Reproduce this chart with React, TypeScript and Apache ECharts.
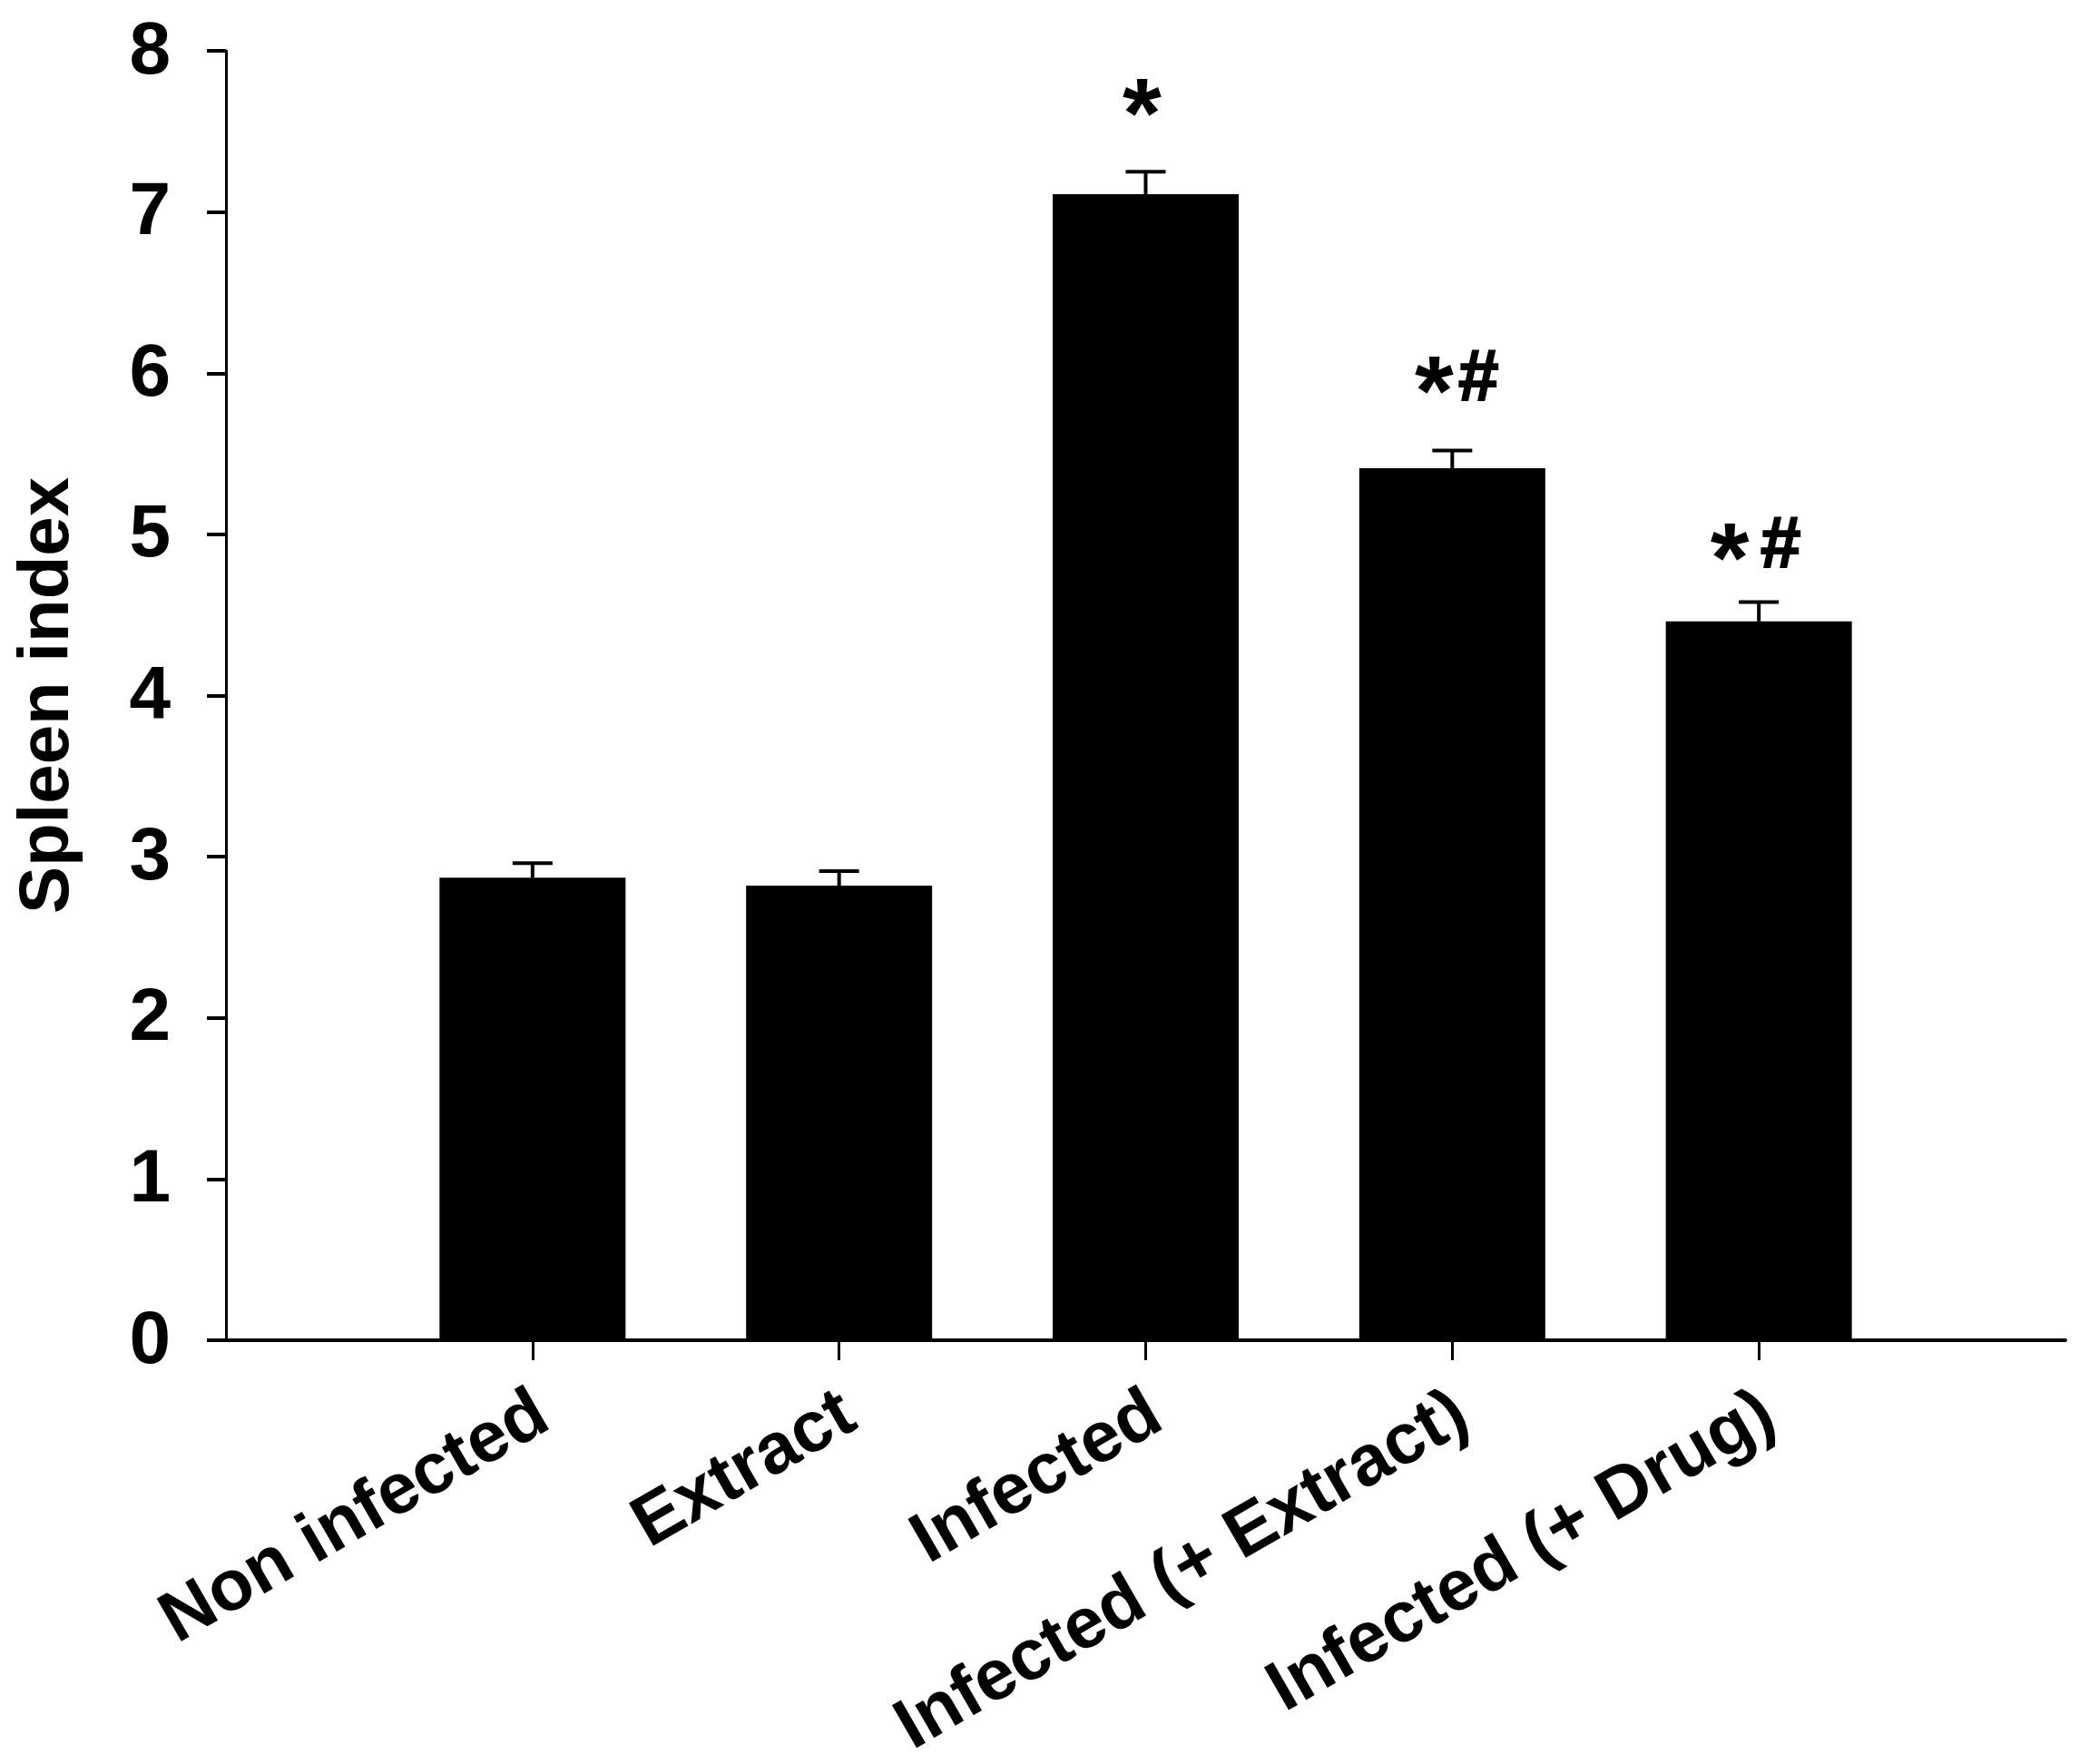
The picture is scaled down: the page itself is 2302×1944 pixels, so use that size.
import { useEffect, useRef } from 'react';
import * as echarts from 'echarts';

const FONT = '"Liberation Sans", Arial, sans-serif';

// blank slots on both ends keep the plot padding of the original axis
const categories = ['', 'Non infected', 'Extract', 'Infected', 'Infected (+ Extract)', 'Infected (+ Drug)', ''];
const means = [null, 2.87, 2.82, 7.11, 5.41, 4.46, null];
const upperErrors = [null, 2.96, 2.91, 7.25, 5.52, 4.58, null];
const marks = ['', '', '', '*', '*#', '* #', ''];
const markLevels = [null, null, null, 7.71, 5.99, 4.95, null];

export default function App() {
  const chartRef = useRef<HTMLDivElement>(null);

  useEffect(() => {
    if (!chartRef.current) return;
    const chart = echarts.init(chartRef.current, undefined, { renderer: 'svg' });
    chart.setOption({
      animation: false,
      backgroundColor: '#ffffff',
      textStyle: { fontFamily: FONT },
      grid: { left: 249, right: 26, top: 56, bottom: 467, outerBoundsMode: 'none' },
      xAxis: {
        type: 'category',
        data: categories,
        boundaryGap: false,
        axisLine: { lineStyle: { color: '#000', width: 4 } },
        axisTick: {
          length: 22,
          lineStyle: { color: '#000', width: 3 },
          interval: (i: number) => i > 0 && i < categories.length - 1,
        },
        axisLabel: {
          interval: 0,
          rotate: 30,
          margin: 56,
          verticalAlign: 'top',
          lineHeight: 36,
          color: '#000',
          fontSize: 79,
          fontWeight: 'bold',
          fontFamily: FONT,
        },
      },
      yAxis: {
        type: 'value',
        min: 0,
        max: 8,
        interval: 1,
        name: 'Spleen index',
        nameLocation: 'middle',
        nameGap: 162,
        nameTextStyle: { color: '#000', fontSize: 78, fontWeight: 'bold', fontFamily: FONT },
        splitLine: { show: false },
        axisLine: { show: true, lineStyle: { color: '#000', width: 3 } },
        axisTick: { show: true, length: 21, lineStyle: { color: '#000', width: 4 } },
        axisLabel: {
          margin: 61,
          verticalAlign: 'bottom',
          lineHeight: 8,
          color: '#000',
          fontSize: 82,
          fontWeight: 'bold',
          fontFamily: FONT,
        },
      },
      series: [
        {
          type: 'custom',
          z: 1,
          data: upperErrors.map((v, i) => [i, v, means[i]]),
          renderItem: (_params: unknown, api: any) => {
            if (isNaN(api.value(1))) return null;
            const top = api.coord([api.value(0), api.value(1)]);
            const bottom = api.coord([api.value(0), api.value(2)]);
            const style = { stroke: '#000', lineWidth: 4 };
            return {
              type: 'group',
              children: [
                { type: 'line', shape: { x1: top[0], y1: top[1], x2: bottom[0], y2: bottom[1] }, style },
                { type: 'line', shape: { x1: top[0] - 22, y1: top[1], x2: top[0] + 22, y2: top[1] }, style },
              ],
            };
          },
        },
        {
          type: 'bar',
          z: 2,
          data: means,
          barWidth: 205,
          itemStyle: { color: '#000' },
        },
        {
          type: 'custom',
          z: 3,
          data: markLevels.map((v, i) => [i, v]),
          renderItem: (params: { dataIndex: number }, api: any) => {
            if (isNaN(api.value(1))) return null;
            const [x, y] = api.coord([api.value(0), api.value(1)]);
            const mark = marks[params.dataIndex];
            const starX = mark === '*' ? x - 4 : mark === '*#' ? x - 20 : x - 32;
            const hashX = mark === '*#' ? x + 29 : x + 24;
            const text = (t: string, tx: number, ty: number, size: number, weight: number) => ({
              type: 'text',
              x: tx,
              y: ty,
              style: {
                text: t,
                fill: '#000',
                stroke: '#000',
                lineWidth: weight,
                align: 'center',
                verticalAlign: 'middle',
                font: `bold ${size}px ${FONT}`,
              },
            });
            const children = [text('*', starX, y + 16, 110, 0)];
            if (mark.includes('#')) children.push(text('#', hashX, y, 80, 2));
            return { type: 'group', children };
          },
        },
      ],
    });
    return () => chart.dispose();
  }, []);

  return (
    <div
      ref={chartRef}
      style={{ position: 'absolute', left: 0, top: 0, width: 2302, height: 1944 }}
    />
  );
}
